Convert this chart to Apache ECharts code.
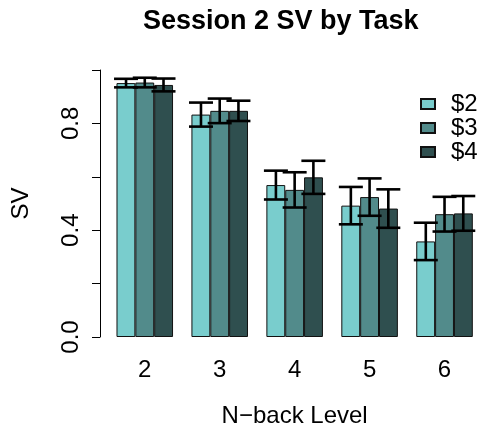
<!DOCTYPE html>
<html>
<head>
<meta charset="utf-8">
<script src="https://cdn.jsdelivr.net/npm/echarts@6/dist/echarts.min.js"></script>
<style>
  html, body { margin: 0; padding: 0; background: #fff; }
  #chart { width: 482px; height: 433px; }
</style>
</head>
<body>
<div id="chart"></div>
<script>
// N-back levels on the x axis
const levels = ['2', '3', '4', '5', '6'];
// Reward conditions (one bar per condition in each group)
const conditions = ['$2', '$3', '$4'];
// Mean SV per level, one array per condition
const sv2 = [0.951, 0.833, 0.569, 0.492, 0.358];
const sv3 = [0.953, 0.847, 0.551, 0.524, 0.460];
const sv4 = [0.944, 0.847, 0.598, 0.481, 0.463];
// Half-width of each error bar
const err2 = [0.016, 0.045, 0.054, 0.070, 0.070];
const err3 = [0.018, 0.046, 0.066, 0.070, 0.065];
const err4 = [0.024, 0.038, 0.062, 0.072, 0.065];
// y-axis tick values that carry a label
const yLabelTicks = [0, 0.4, 0.8];

const means = [sv2, sv3, sv4];
const errs = [err2, err3, err4];
const colors = ['#79CDCD', '#528B8B', '#2F4F4F'];
const FONT = '"Liberation Sans", Arial, Helvetica, sans-serif';

const chart = echarts.init(document.getElementById('chart'), null, { renderer: 'canvas' });

const barSeries = conditions.map((name, i) => ({
  name: name,
  type: 'bar',
  data: means[i],
  barWidth: 18.85,
  barGap: '0%',
  itemStyle: { color: colors[i], borderColor: '#111', borderWidth: 1 },
  z: 2
}));

// Error bars: one custom series per condition, shifted onto its bar
const errSeries = conditions.map((name, i) => ({
  type: 'custom',
  name: name + ' err',
  z: 5,
  data: levels.map((_, k) => [k, means[i][k] - errs[i][k], means[i][k] + errs[i][k]]),
  renderItem: function (params, api) {
    const band = api.size([1, 0])[0];
    const bw = band / 4;
    const shift = (i - 1) * bw;
    const lo = api.coord([api.value(0), api.value(1)]);
    const hi = api.coord([api.value(0), api.value(2)]);
    const x = lo[0] + shift;
    const half = 12;
    const style = { stroke: '#000', lineWidth: 2.6 };
    return {
      type: 'group',
      children: [
        { type: 'line', shape: { x1: x, y1: lo[1], x2: x, y2: hi[1] }, style: style },
        { type: 'line', shape: { x1: x - half, y1: lo[1], x2: x + half, y2: lo[1] }, style: style },
        { type: 'line', shape: { x1: x - half, y1: hi[1], x2: x + half, y2: hi[1] }, style: style }
      ]
    };
  },
  silent: true,
  tooltip: { show: false }
}));

chart.setOption({
  animation: false,
  backgroundColor: '#fff',
  textStyle: { fontFamily: FONT },
  title: {
    text: 'Session 2 SV by Task',
    left: 143,
    top: 8,
    padding: 0,
    textStyle: { fontFamily: FONT, fontWeight: 'bold', fontSize: 27, color: '#000' }
  },
  legend: {
    data: conditions,
    orient: 'vertical',
    left: 420,
    top: 92,
    padding: 0,
    itemGap: 0,
    itemWidth: 14,
    itemHeight: 10,
    icon: 'rect',
    textStyle: { fontFamily: FONT, fontSize: 24, color: '#000', lineHeight: 21, padding: [0, 0, 0, 11] }
  },
  grid: { left: 107.3, top: 70, width: 377, height: 271.7, containLabel: false },
  xAxis: {
    type: 'category',
    data: levels,
    axisLine: { show: false },
    axisTick: { show: false },
    axisLabel: { fontFamily: FONT, fontSize: 24, color: '#000', margin: 21 },
    name: 'N\u2212back Level',
    nameLocation: 'middle',
    nameGap: 67,
    nameTextStyle: { fontFamily: FONT, fontSize: 24, color: '#000' }
  },
  yAxis: {
    type: 'value',
    min: 0,
    max: 1,
    interval: 0.2,
    offset: 7.3,
    axisLine: { show: true, lineStyle: { color: '#000', width: 1 } },
    axisTick: { show: true, length: 8, lineStyle: { color: '#000', width: 1 } },
    splitLine: { show: false },
    axisLabel: {
      rotate: 90,
      margin: 17,
      fontFamily: FONT,
      fontSize: 24,
      color: '#000',
      formatter: function (v) {
        return yLabelTicks.some(t => Math.abs(t - v) < 1e-9) ? v.toFixed(1) : '';
      }
    },
    name: 'SV',
    nameLocation: 'middle',
    nameGap: 67,
    nameRotate: 90,
    nameTextStyle: { fontFamily: FONT, fontSize: 24, color: '#000' }
  },
  series: barSeries.concat(errSeries)
});
</script>
</body>
</html>
